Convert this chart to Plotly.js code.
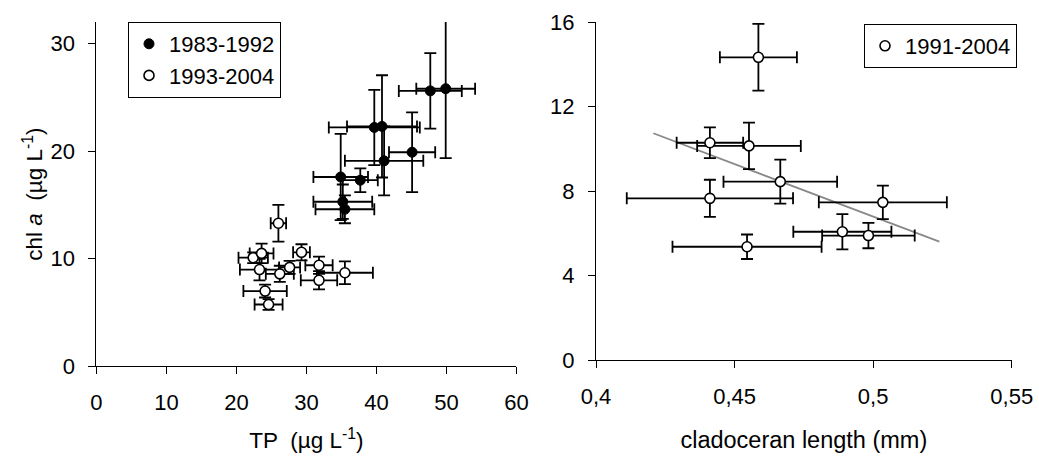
<!DOCTYPE html>
<html>
<head>
<meta charset="utf-8">
<script src="https://cdn.plot.ly/plotly-3.0.1.min.js"></script>
<style>html,body{margin:0;padding:0;background:#fff;}#chart{width:1039px;height:457px;}</style>
</head>
<body>
<div id="chart"></div>
<script>
// Left panel: TP vs chl a
const tpOld = [47.7, 49.9, 39.7, 40.8, 45.1, 41.1, 34.9, 37.7, 35.2, 35.5];
const tpOldErr = [4.5, 4.2, 6.5, 5.0, 3.3, 5.6, 3.9, 2.5, 4.2, 4.2];
const chlOld = [25.6, 25.8, 22.2, 22.3, 19.9, 19.1, 17.6, 17.3, 15.3, 14.6];
const chlOldErr = [3.5, 6.45, 3.5, 4.75, 3.7, 3.2, 4.0, 1.1, 1.6, 1.3];

const tpNew = [26.0, 22.4, 23.6, 23.3, 29.3, 27.6, 26.2, 31.8, 35.5, 31.8, 24.1, 24.6];
const tpNewErr = [1.1, 2.1, 1.7, 2.8, 1.2, 1.5, 2.0, 1.95, 4.0, 2.6, 3.1, 2.0];
const chlNew = [13.3, 10.1, 10.5, 9.0, 10.6, 9.2, 8.6, 9.4, 8.7, 8.0, 7.0, 5.75];
const chlNewErr = [1.7, 0.5, 0.9, 1.0, 0.75, 0.6, 0.75, 0.8, 1.05, 0.85, 0.6, 0.5];

// Right panel: cladoceran length vs chl a
const lenR = [0.4586, 0.4411, 0.4552, 0.4665, 0.4411, 0.5035, 0.4889, 0.4983, 0.4545];
const lenErr = [0.0139, 0.012, 0.0187, 0.0205, 0.030, 0.0231, 0.0177, 0.0167, 0.0269];
const chlR = [14.33, 10.29, 10.14, 8.45, 7.66, 7.47, 6.08, 5.9, 5.37];
const chlRErr = [1.58, 0.73, 1.1, 1.04, 0.88, 0.79, 0.83, 0.6, 0.58];
const trendX = [0.4207, 0.5239];
const trendY = [10.74, 5.61];

const legendNames = ['1983-1992', '1993-2004', '1991-2004'];

const FONT = 'Liberation Sans, Arial, sans-serif';
const errStyle = {color: '#000', thickness: 1.8, width: 6};

const traces = [
  {
    x: tpOld, y: chlOld, type: 'scatter', mode: 'markers', name: legendNames[0],
    xaxis: 'x', yaxis: 'y', legend: 'legend',
    marker: {symbol: 'circle', size: 10, color: '#000', line: {color: '#000', width: 1}},
    error_x: Object.assign({type: 'data', array: tpOldErr, visible: true}, errStyle),
    error_y: Object.assign({type: 'data', array: chlOldErr, visible: true}, errStyle)
  },
  {
    x: tpNew, y: chlNew, type: 'scatter', mode: 'markers', name: legendNames[1],
    xaxis: 'x', yaxis: 'y', legend: 'legend',
    marker: {symbol: 'circle', size: 10, color: '#fff', line: {color: '#000', width: 1.6}},
    error_x: Object.assign({type: 'data', array: tpNewErr, visible: true}, errStyle),
    error_y: Object.assign({type: 'data', array: chlNewErr, visible: true}, errStyle)
  },
  {
    x: trendX, y: trendY, type: 'scatter', mode: 'lines', showlegend: false,
    xaxis: 'x2', yaxis: 'y2', hoverinfo: 'skip',
    line: {color: '#888', width: 1.8}
  },
  {
    x: lenR, y: chlR, type: 'scatter', mode: 'markers', name: legendNames[2],
    xaxis: 'x2', yaxis: 'y2', legend: 'legend2',
    marker: {symbol: 'circle', size: 10, color: '#fff', line: {color: '#000', width: 1.6}},
    error_x: Object.assign({type: 'data', array: lenErr, visible: true}, errStyle),
    error_y: Object.assign({type: 'data', array: chlRErr, visible: true}, errStyle)
  }
];

const W = 1039, H = 457;
const axCommon = {
  showgrid: false, zeroline: false, showline: true, linecolor: '#000', linewidth: 1,
  ticks: 'outside', ticklen: 7, tickcolor: '#000', tickwidth: 1,
  tickfont: {family: FONT, size: 22, color: '#000'}, automargin: false, fixedrange: true
};

const layout = {
  width: W, height: H,
  margin: {l: 0, r: 0, t: 0, b: 0},
  paper_bgcolor: '#fff', plot_bgcolor: '#fff',
  separators: ',.',
  font: {family: FONT, size: 22, color: '#000'},
  showlegend: true,
  xaxis: Object.assign({}, axCommon, {
    domain: [96.4 / W, 516.4 / W], range: [0, 60], dtick: 10, tick0: 0, anchor: 'y',
    ticklabelstandoff: 9,
    title: {text: 'TP  (µg L<sup>-1</sup>)', font: {family: FONT, size: 22.5}, standoff: 18}
  }),
  yaxis: Object.assign({}, axCommon, {
    domain: [1 - 366.4 / H, 1 - 22 / H], range: [0, 32], dtick: 10, tick0: 0, anchor: 'x',
    ticklabelstandoff: 9,
    title: {text: 'chl <i>a</i>  (µg L<sup>-1</sup>)', font: {family: FONT, size: 22.5}, standoff: 1}
  }),
  xaxis2: Object.assign({}, axCommon, {
    domain: [596 / W, 1011.7 / W], range: [0.4, 0.55], dtick: 0.05, tick0: 0.4, anchor: 'y2',
    ticklabelstandoff: 9,
    title: {text: 'cladoceran length (mm)', font: {family: FONT, size: 23.5}, standoff: 23}
  }),
  yaxis2: Object.assign({}, axCommon, {
    domain: [1 - 360.3 / H, 1 - 22 / H], range: [0, 16], dtick: 4, tick0: 0, anchor: 'x2',
    ticklabelstandoff: 9
  }),
  legend: {
    x: 128 / W, y: 1 - 22 / H, xanchor: 'left', yanchor: 'top', xref: 'paper', yref: 'paper',
    bgcolor: '#fff', bordercolor: '#000', borderwidth: 1,
    font: {family: FONT, size: 22, color: '#000'}
  },
  legend2: {
    x: 864 / W, y: 1 - 24 / H, xanchor: 'left', yanchor: 'top', xref: 'paper', yref: 'paper',
    bgcolor: '#fff', bordercolor: '#000', borderwidth: 1,
    font: {family: FONT, size: 22, color: '#000'}
  }
};

Plotly.newPlot('chart', traces, layout, {displayModeBar: false, staticPlot: true});
</script>
</body>
</html>
